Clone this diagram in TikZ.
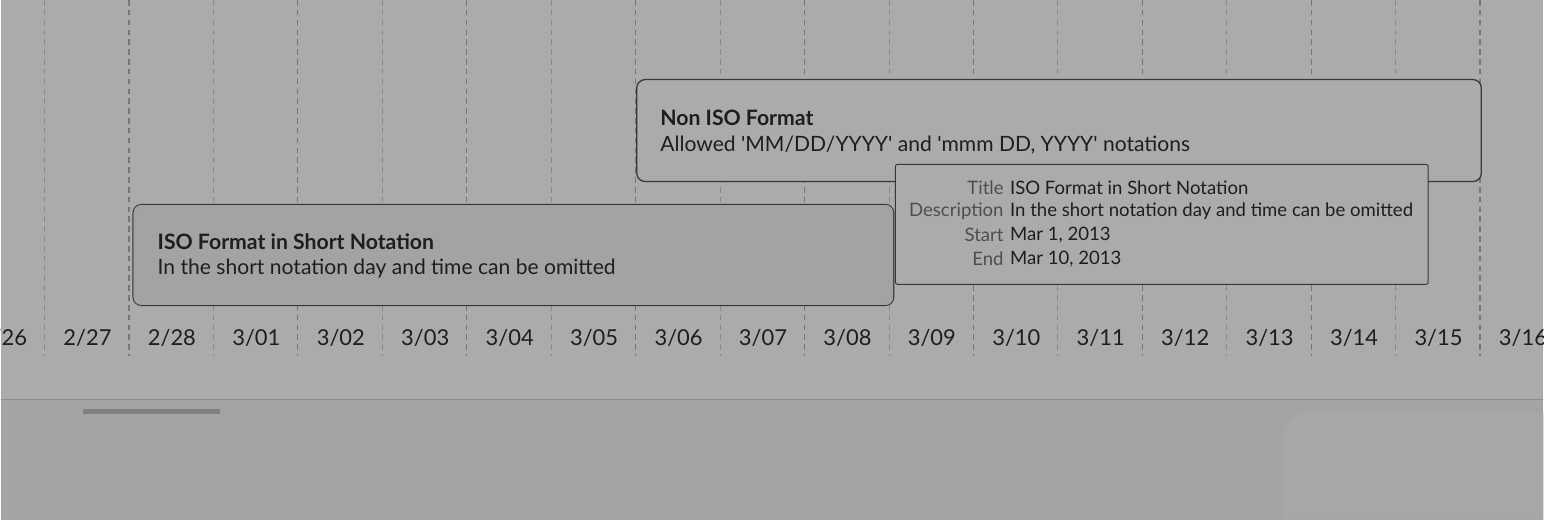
\documentclass[tikz,border=0pt]{standalone}
\usepackage{fontspec}
\newfontfamily\uifont{Lato}
\usepackage{tikz}
\usetikzlibrary{positioning, calc}

\definecolor{pagebg}{HTML}{ABABAB}
\definecolor{footbg}{HTML}{A5A4A3}
\definecolor{gridln}{HTML}{8A8A8A}
\definecolor{gridlndk}{HTML}{767676}
\definecolor{boxln}{HTML}{383838}
\definecolor{selfill}{HTML}{A3A3A3}
\definecolor{selrim}{HTML}{9BA2A8}
\definecolor{textdk}{HTML}{1E1E1E}
\definecolor{textlt}{HTML}{4E4E4E}

\tikzset{
    event/.style={draw=boxln, line width=0.9pt, rounded corners=6pt, fill=pagebg, inner sep=0pt, anchor=north west},
    evtitle/.style={anchor=west, inner sep=0pt, text=textdk, font=\uifont\fontsize{15.1}{17}\selectfont\bfseries},
    evdesc/.style={anchor=west, inner sep=0pt, text=textdk, font=\uifont\fontsize{15}{17}\selectfont},
    datelbl/.style={inner sep=0pt, text=textdk, font=\uifont\fontsize{15.6}{17}\selectfont},
    tiplbl/.style={anchor=east, inner sep=0pt, text=textlt, font=\uifont\fontsize{13.2}{15}\selectfont},
    tipval/.style={anchor=west, inner sep=0pt, text=textdk, font=\uifont\fontsize{13.2}{15}\selectfont},
    dayline/.style={gridln, dash pattern=on 4pt off 3pt, line width=0.6pt}
}

\begin{document}
\begin{tikzpicture}[x=0.025cm, y=-0.025cm]
        % page and footer
        \fill[pagebg] (0,0) rectangle (1544,399);
        \fill[footbg] (0,399) rectangle (1544,520);
        \draw[black!45, line width=0.8pt] (0,399.5) -- (1544,399.5);
        \fill[footbg!97!white] (1310,413) to[out=180, in=80] (1283,520) -- (1544,520) -- (1544,413) -- cycle;
        \fill[black!50] (82,409) rectangle (220,414);
        \useasboundingbox (0,0) rectangle (1544,520);

        % day grid
        \foreach \i in {0,2,...,16} {
            \draw[dayline] ({44+84.5*\i},0) -- ({44+84.5*\i},356);
        }
        \foreach \i in {1,3,...,17} {
            \draw[dayline, gridlndk, line width=0.8pt] ({44+84.5*\i},0) -- ({44+84.5*\i},356);
        }

        % date labels
        \foreach \lbl [count=\i from 0] in {2/26,2/27,2/28,3/01,3/02,3/03,3/04,3/05,3/06,3/07,3/08,3/09,3/10,3/11,3/12,3/13,3/14,3/15,3/16} {
            \node[datelbl] (d\i) at ({2.5+84.5*\i},338) {\lbl};
        }

        % events
        \node[event, minimum width=21.125cm, minimum height=2.55cm] (noniso) at (636,79) {};
        \node[evtitle] (noniso-t) at ($(noniso.north west)+(24,39)$) {Non ISO Format};
        \node[evdesc] (noniso-d) at ($(noniso.north west)+(24,66)$) {Allowed 'MM/DD/YYYY' and 'mmm DD, YYYY' notations};

        \node[event, fill=selfill, minimum width=19.025cm, minimum height=2.525cm] (isoshort) at (132,204) {};
        \draw[selrim, line width=0.6pt, rounded corners=5pt] ($(isoshort.north west)+(1.6,1.6)$) rectangle ($(isoshort.south east)+(-1.6,-1.6)$);
        \node[evtitle] (isoshort-t) at ($(isoshort.north west)+(25,38)$) {ISO Format in Short Notation};
        \node[evdesc] (isoshort-d) at ($(isoshort.north west)+(25,65)$) {In the short notation day and time can be omitted};

        % tooltip
        \node[event, rounded corners=1.5pt, line width=0.7pt, minimum width=13.325cm, minimum height=3cm] (tip) at (895,164) {};
        \foreach \k/\v [count=\r from 0] in {Title/ISO Format in Short Notation, Description/In the short notation day and time can be omitted, Start/{Mar 1, 2013}, End/{Mar 10, 2013}} {
            \node[tiplbl] (tipk\r) at ($(tip.north west)+(109,24+23.7*\r)$) {\k};
            \node[tipval] (tipv\r) at ($(tip.north west)+(115,24+23.7*\r)$) {\v};
        }
    \end{tikzpicture}
\end{document}
